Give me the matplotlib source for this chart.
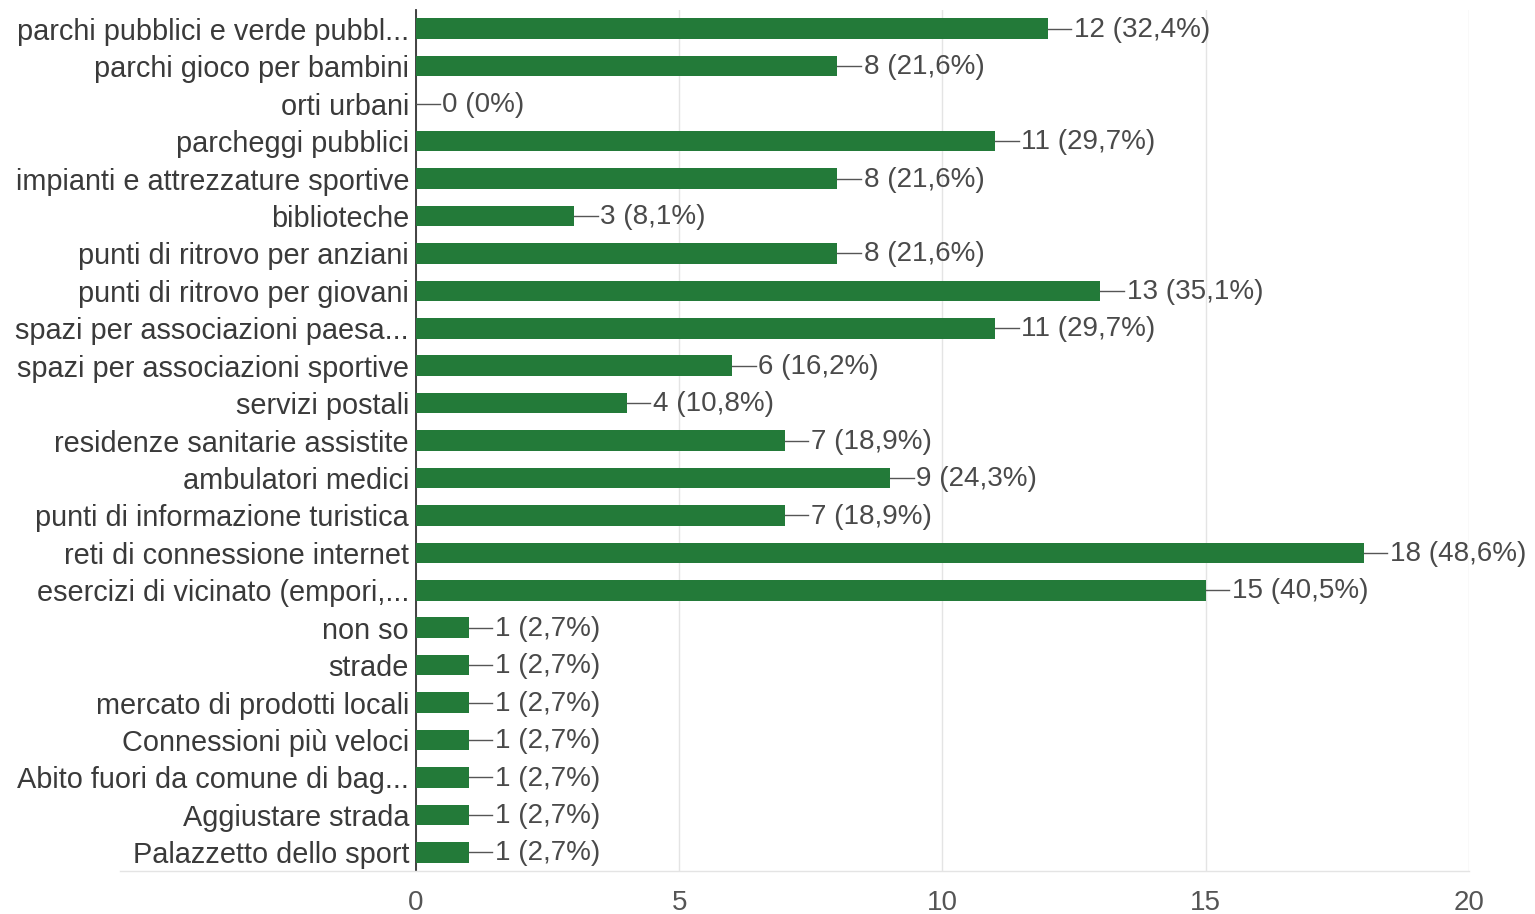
import matplotlib.pyplot as plt
import numpy as np

plt.rcParams['font.family'] = ['Liberation Sans', 'DejaVu Sans']

labels = [
    "parchi pubblici e verde pubbl...",
    "parchi gioco per bambini",
    "orti urbani",
    "parcheggi pubblici",
    "impianti e attrezzature sportive",
    "biblioteche",
    "punti di ritrovo per anziani",
    "punti di ritrovo per giovani",
    "spazi per associazioni paesa...",
    "spazi per associazioni sportive",
    "servizi postali",
    "residenze sanitarie assistite",
    "ambulatori medici",
    "punti di informazione turistica",
    "reti di connessione internet",
    "esercizi di vicinato (empori,...",
    "non so",
    "strade",
    "mercato di prodotti locali",
    "Connessioni più veloci",
    "Abito fuori da comune di bag...",
    "Aggiustare strada",
    "Palazzetto dello sport",
]
counts = [12, 8, 0, 11, 8, 3, 8, 13, 11, 6, 4, 7, 9, 7, 18, 15, 1, 1, 1, 1, 1, 1, 1]
percents = ["32,4%", "21,6%", "0%", "29,7%", "21,6%", "8,1%", "21,6%", "35,1%",
            "29,7%", "16,2%", "10,8%", "18,9%", "24,3%", "18,9%", "48,6%", "40,5%",
            "2,7%", "2,7%", "2,7%", "2,7%", "2,7%", "2,7%", "2,7%"]
xticks = [0, 5, 10, 15, 20]

fig = plt.figure(figsize=(15.35, 9.14), dpi=100)
ax = fig.add_axes([0.271, 0.047, 0.686, 0.942])

y = np.arange(len(labels))
ax.barh(y, counts, height=0.55, color="#237a39", zorder=3)

for yi, c, p in zip(y, counts, percents):
    ax.plot([c, c + 0.45], [yi, yi], color="#555555", lw=1, zorder=4)
    ax.text(c + 0.5, yi + 0.03, f"{c} ({p})", va="center", ha="left",
            fontsize=20, color="#4a4a4a", zorder=5)

ax.set_xlim(0, 20)
ax.set_ylim(len(labels) - 0.5, -0.5)
ax.set_yticks(y)
ax.set_yticklabels(labels, fontsize=20.8, color="#3a3a3a")
ax.set_xticks(xticks)
ax.set_xticklabels([str(t) for t in xticks], fontsize=20, color="#555555")
ax.tick_params(axis="both", length=0)
ax.tick_params(axis="y", pad=5)
ax.tick_params(axis="x", pad=14)

ax.grid(axis="x", color="#e4e4e4", lw=1, zorder=0)
for s in ["top", "right", "bottom"]:
    ax.spines[s].set_visible(False)
ax.spines["left"].set_color("#333333")
ax.spines["left"].set_linewidth(1.3)

# light baseline that runs a bit past the axes on the left
fig.add_artist(plt.Line2D([0.078, 0.957], [0.047, 0.047], color="#e4e4e4", lw=1))

plt.savefig("out.png", dpi=100)
